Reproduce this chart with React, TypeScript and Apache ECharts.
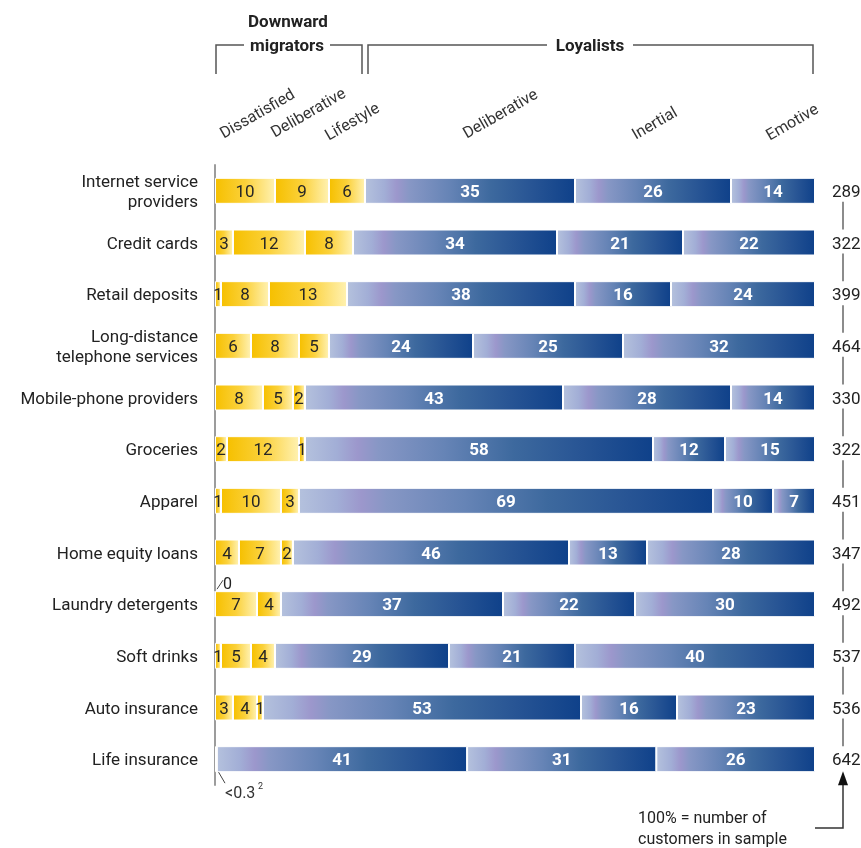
import React, { useEffect, useRef } from "react";
import * as echarts from "echarts";

const categories = [
  "Internet service\nproviders",
  "Credit cards",
  "Retail deposits",
  "Long-distance\ntelephone services",
  "Mobile-phone providers",
  "Groceries",
  "Apparel",
  "Home equity loans",
  "Laundry detergents",
  "Soft drinks",
  "Auto insurance",
  "Life insurance",
];
const dissatisfied = [10, 3, 1, 6, 8, 2, 1, 4, 0, 1, 3, 0.3];
const migratorDeliberative = [9, 12, 8, 8, 5, 12, 10, 7, 7, 5, 4, 0];
const lifestyle = [6, 8, 13, 5, 2, 1, 3, 2, 4, 4, 1, 0];
const loyalistDeliberative = [35, 34, 38, 24, 43, 58, 69, 46, 37, 29, 53, 41];
const inertial = [26, 21, 16, 25, 28, 12, 10, 13, 22, 21, 16, 31];
const emotive = [14, 22, 24, 32, 14, 15, 7, 28, 30, 40, 23, 26];
const sampleSizes = [289, 322, 399, 464, 330, 322, 451, 347, 492, 537, 536, 642];
const segmentNames = ["Dissatisfied", "Deliberative", "Lifestyle", "Deliberative", "Inertial", "Emotive"];

const FONT = "Roboto, 'Liberation Sans', sans-serif";

export default function App() {
  const ref = useRef<HTMLDivElement>(null);
  useEffect(() => {
    if (!ref.current) return;
    const chart = echarts.init(ref.current, null, { renderer: "svg" });
    const rows = [dissatisfied, migratorDeliberative, lifestyle, loyalistDeliberative, inertial, emotive];
    const rowTotals = categories.map((_, i) => rows.reduce((s, r) => s + r[i], 0));

    const yellow = new echarts.graphic.LinearGradient(0, 0, 1, 0, [
      { offset: 0, color: "#f6c000" },
      { offset: 0.5, color: "#fbd13a" },
      { offset: 1, color: "#fff1b0" },
    ]);
    const blue = new echarts.graphic.LinearGradient(0, 0, 1, 0, [
      { offset: 0, color: "#b4c1dd" },
      { offset: 0.09, color: "#a2aed6" },
      { offset: 0.15, color: "#9c97cc" },
      { offset: 0.21, color: "#8797c5" },
      { offset: 0.4, color: "#6684b6" },
      { offset: 0.6, color: "#3d699e" },
      { offset: 0.8, color: "#275494" },
      { offset: 1, color: "#0f418a" },
    ]);

    const series = rows.map((arr, k) => ({
      type: "bar",
      name: segmentNames[k],
      stack: "all",
      barWidth: 26,
      data: arr.map((v, i) => (v / rowTotals[i]) * 100),
      itemStyle: { color: k < 3 ? yellow : blue, borderColor: "#ffffff", borderWidth: 1 },
      label: {
        show: true,
        position: "inside",
        formatter: (p: any) => (arr[p.dataIndex] >= 1 ? String(arr[p.dataIndex]) : ""),
        color: k < 3 ? "#262626" : "#ffffff",
        fontWeight: k < 3 ? "normal" : "bold",
        fontSize: 17,
        fontFamily: FONT,
      },
    }));

    chart.setOption({
      animation: false,
      textStyle: { fontFamily: FONT },
      grid: { left: 215, right: 46, top: 165, height: 620, outerBoundsMode: "none", containLabel: false },
      xAxis: { type: "value", min: 0, max: 100, show: false },
      yAxis: [
        {
          type: "category",
          data: categories,
          inverse: true,
          axisLine: { show: true, lineStyle: { color: "#9c9c9c", width: 2 } },
          axisTick: { show: false },
          axisLabel: { color: "#222", fontSize: 17, fontFamily: FONT, margin: 17, lineHeight: 20, align: "right" },
        },
        {
          type: "category",
          data: sampleSizes.map(String),
          inverse: true,
          position: "right",
          axisLine: { show: false },
          axisTick: { show: false },
          axisLabel: { color: "#222", fontSize: 17, fontFamily: FONT, margin: 17 },
        },
      ],
      series,
    });

    const yOf = (i: number) => chart.convertToPixel({ yAxisIndex: 0 }, i) as number;
    const xOf = (v: number) => chart.convertToPixel({ xAxisIndex: 0 }, v) as number;
    const lineStyle = { stroke: "#333", lineWidth: 1.5, fill: null };
    const graphics: any[] = [];
    const cx = 843;
    for (let i = 0; i < categories.length - 1; i++) {
      graphics.push({ type: "line", shape: { x1: cx, y1: yOf(i) + 11, x2: cx, y2: yOf(i + 1) - 13 }, style: { stroke: "#666", lineWidth: 1.5 } });
    }
    const lastY = yOf(categories.length - 1);
    graphics.push({ type: "polyline", shape: { points: [[815, 828], [cx, 828], [cx, lastY + 25]] }, style: lineStyle });
    graphics.push({ type: "polygon", shape: { points: [[cx, lastY + 12], [cx - 5, lastY + 26], [cx + 5, lastY + 26]] }, style: { fill: "#111" } });
    graphics.push({
      type: "text", x: 638, y: 828,
      style: { text: "100% = number of\ncustomers in sample", font: `16px ${FONT}`, fill: "#222", textAlign: "left", textVerticalAlign: "middle", lineHeight: 21 },
    });

    // annotations
    const x0 = xOf(0);
    const yL = yOf(8);
    graphics.push({ type: "line", shape: { x1: x0 + 2, y1: yL - 15, x2: x0 + 8, y2: yL - 24 }, style: { stroke: "#444", lineWidth: 1 } });
    graphics.push({ type: "text", x: x0 + 8, y: yL - 21, style: { text: "0", font: `16px ${FONT}`, fill: "#222", textAlign: "left", textVerticalAlign: "middle" } });
    graphics.push({ type: "line", shape: { x1: x0 + 3, y1: lastY + 12, x2: x0 + 10, y2: lastY + 24 }, style: { stroke: "#444", lineWidth: 1 } });
    graphics.push({ type: "text", x: x0 + 10, y: lastY + 33, style: { text: "<0.3", font: `16px ${FONT}`, fill: "#333", textAlign: "left", textVerticalAlign: "middle" } });
    graphics.push({ type: "text", x: x0 + 43, y: lastY + 27, style: { text: "2", font: `9px ${FONT}`, fill: "#333", textAlign: "left", textVerticalAlign: "middle" } });

    // header brackets
    const bold = `bold 17px ${FONT}`;
    graphics.push({ type: "text", x: 288, y: 21, style: { text: "Downward", font: bold, fill: "#222", textAlign: "center", textVerticalAlign: "middle" } });
    graphics.push({ type: "text", x: 287, y: 45, style: { text: "migrators", font: bold, fill: "#222", textAlign: "center", textVerticalAlign: "middle" } });
    graphics.push({ type: "text", x: 590, y: 45, style: { text: "Loyalists", font: bold, fill: "#222", textAlign: "center", textVerticalAlign: "middle" } });
    const bs = { stroke: "#555", lineWidth: 1.5, fill: null };
    graphics.push({ type: "polyline", shape: { points: [[216, 74], [216, 45], [244, 45]] }, style: bs });
    graphics.push({ type: "polyline", shape: { points: [[330, 45], [362, 45], [362, 74]] }, style: bs });
    graphics.push({ type: "polyline", shape: { points: [[368, 74], [368, 45], [547, 45]] }, style: bs });
    graphics.push({ type: "polyline", shape: { points: [[633, 45], [813, 45], [813, 74]] }, style: bs });

    const headers: [string, number, number][] = [
      ["Dissatisfied", 225, 141],
      ["Deliberative", 276, 140],
      ["Lifestyle", 330, 143],
      ["Deliberative", 468, 141],
      ["Inertial", 637, 142],
      ["Emotive", 771, 143],
    ];
    headers.forEach(([t, x, y]) =>
      graphics.push({
        type: "text", x, y, rotation: Math.PI / 6,
        style: { text: t, font: `16px ${FONT}`, fill: "#333", textAlign: "left", textVerticalAlign: "bottom" },
      })
    );

    chart.setOption({ graphic: graphics });
    return () => chart.dispose();
  }, []);
  return <div ref={ref} style={{ position: "fixed", left: 0, top: 0, width: 861, height: 848 }} />;
}
